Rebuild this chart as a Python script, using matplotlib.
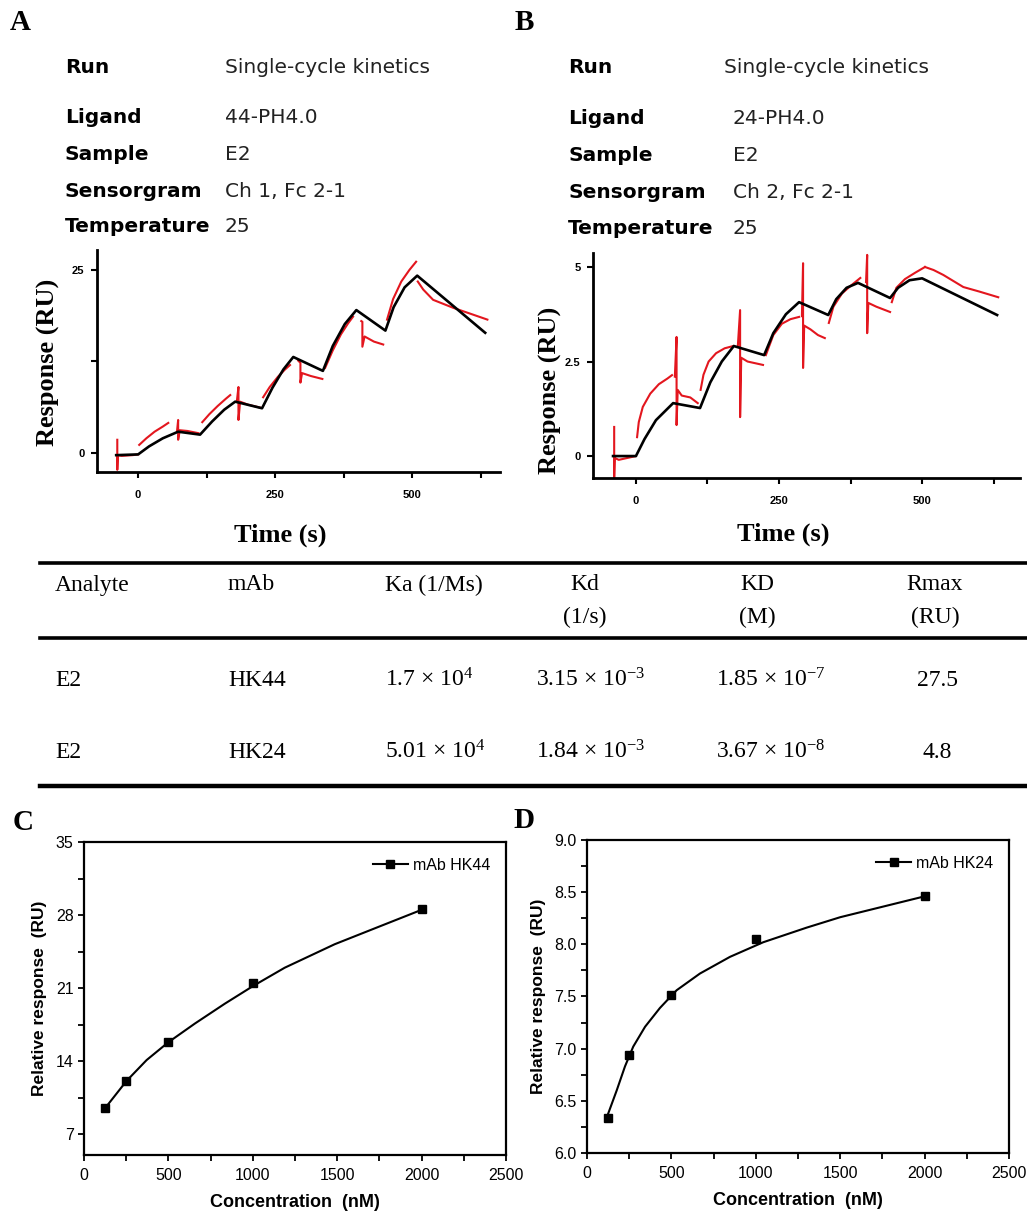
import numpy as np
import matplotlib
matplotlib.use("Agg")
import matplotlib.pyplot as plt
from matplotlib.lines import Line2D

# ------------------------------------------------------------
# Data
# ------------------------------------------------------------

# Panel A sensorgram (HK44): fitted curve (black)
a_fit_t = [-40, 0, 20, 45, 73, 113, 135, 157, 177, 226, 245, 265, 283,
           337, 355, 377, 398, 451, 466, 486, 509, 633]
a_fit_y = [-0.3, -0.2, 0.9, 2.0, 2.9, 2.5, 4.3, 5.9, 7.0, 6.1, 8.9, 11.4, 13.1,
           11.2, 14.6, 17.6, 19.5, 16.7, 19.9, 22.6, 24.2, 16.4]

# Panel A measured response (red), one list per recorded segment
a_raw_t = [
    [-38, -38, -37, -30, -10, 0],
    [2, 15, 30, 45, 55],
    [71, 73, 73, 76, 90, 110],
    [117, 130, 145, 160, 168],
    [180, 183, 183, 186, 200, 222],
    [228, 240, 255, 268, 277],
    [292, 296, 296, 299, 315, 336],
    [341, 355, 370, 383, 392],
    [407, 409, 409, 413, 430, 447],
    [454, 465, 480, 495, 507],
    [510, 520, 538, 575, 610, 637],
]
a_raw_y = [
    [1.8, -2.3, -0.3, -0.4, -0.3, -0.2],
    [1.1, 2.0, 2.9, 3.6, 4.1],
    [3.0, 4.5, 1.8, 3.1, 3.0, 2.7],
    [4.2, 5.3, 6.4, 7.4, 7.9],
    [7.0, 9.0, 4.5, 7.0, 6.6, 6.2],
    [7.6, 9.0, 10.4, 11.4, 12.0],
    [12.6, 12.3, 9.6, 10.9, 10.5, 10.1],
    [11.6, 14.0, 16.2, 17.7, 18.6],
    [18.0, 17.9, 14.5, 15.9, 15.2, 14.8],
    [18.2, 21.0, 23.4, 25.0, 26.1],
    [23.4, 22.3, 20.9, 19.8, 18.9, 18.2],
]

# Panel B sensorgram (HK24)
b_fit_t = [-40, 0, 15, 35, 65, 112, 130, 150, 171, 224, 240, 262, 285,
           336, 350, 368, 388, 444, 458, 478, 500, 631]
b_fit_y = [0.0, 0.0, 0.45, 0.95, 1.40, 1.27, 1.95, 2.5, 2.91, 2.67, 3.25, 3.75, 4.07,
           3.73, 4.15, 4.45, 4.58, 4.18, 4.45, 4.65, 4.70, 3.73]

b_raw_t = [
    [-38, -38, -37, -30, -15, 0],
    [2, 5, 12, 25, 40, 55, 63],
    [68, 71, 71, 73, 80, 95, 108],
    [113, 118, 127, 140, 155, 170],
    [178, 182, 182, 184, 195, 210, 222],
    [227, 240, 255, 270, 285],
    [290, 292, 292, 294, 305, 318, 330],
    [337, 345, 360, 375, 392],
    [402, 404, 404, 406, 420, 444],
    [447, 455, 470, 488, 505],
    [505, 520, 537, 572, 600, 633],
]
b_raw_y = [
    [0.77, -0.58, -0.05, -0.1, -0.05, 0.0],
    [0.5, 0.9, 1.3, 1.65, 1.9, 2.05, 2.14],
    [2.1, 3.15, 0.82, 1.75, 1.6, 1.55, 1.4],
    [1.75, 2.15, 2.5, 2.72, 2.85, 2.91],
    [2.9, 3.86, 1.03, 2.6, 2.5, 2.45, 2.41],
    [2.67, 3.2, 3.5, 3.62, 3.68],
    [3.7, 5.1, 2.33, 3.45, 3.35, 3.2, 3.12],
    [3.52, 3.95, 4.3, 4.5, 4.71],
    [4.6, 5.32, 3.25, 4.05, 3.95, 3.81],
    [4.07, 4.45, 4.68, 4.85, 5.0],
    [5.0, 4.92, 4.79, 4.47, 4.35, 4.2],
]

# Run info headers
info_keys = ["Run", "Ligand", "Sample", "Sensorgram", "Temperature"]
info_a = ["Single-cycle kinetics", "44-PH4.0", "E2", "Ch 1, Fc 2-1", "25"]
info_b = ["Single-cycle kinetics", "24-PH4.0", "E2", "Ch 2, Fc 2-1", "25"]

# Kinetics table
table_head1 = ["Analyte", "mAb", "Ka (1/Ms)", "Kd", "KD", "Rmax"]
table_head2 = ["", "", "", "(1/s)", "(M)", "(RU)"]
table_rows = [
    ["E2", "HK44", r"1.7 × 10$^{4}$", r"3.15 × 10$^{−3}$", r"1.85 × 10$^{−7}$", "27.5"],
    ["E2", "HK24", r"5.01 × 10$^{4}$", r"1.84 × 10$^{−3}$", r"3.67 × 10$^{−8}$", "4.8"],
]

# Panels C / D: dose response
conc = [125, 250, 500, 1000, 2000]
resp_hk44 = [9.5, 12.1, 15.8, 21.5, 28.6]
resp_hk24 = [6.34, 6.94, 7.51, 8.05, 8.46]

# fitted curves, sampled by eye along the drawn line
fit44_x = [124, 252, 371, 499, 657, 834, 1002, 1189, 1485, 1750, 2000]
fit44_y = [9.47, 12.1, 14.1, 15.8, 17.6, 19.5, 21.2, 22.95, 25.2, 26.9, 28.5]
fit24_x = [126, 176, 225, 274, 344, 432, 531, 669, 847, 1044, 1301, 1500, 1750, 2000]
fit24_y = [6.38, 6.60, 6.83, 7.02, 7.21, 7.39, 7.56, 7.72, 7.88, 8.02, 8.16, 8.26, 8.36, 8.46]

# ------------------------------------------------------------
# Figure
# ------------------------------------------------------------
W, H = 1027, 1212
plt.rcParams.update({
    "font.family": "Liberation Sans",
    "mathtext.fontset": "custom",
    "mathtext.rm": "Liberation Serif",
    "mathtext.it": "Liberation Serif:italic",
    "mathtext.bf": "Liberation Serif:bold",
})

fig = plt.figure(figsize=(W / 100, H / 100), dpi=100)
fig.patch.set_facecolor("white")

RED = "#e3161e"


def fx(x):
    return x / W


def fy(y):
    return 1 - y / H


def box(l, t, r, b):
    return [fx(l), fy(b), fx(r) - fx(l), fy(t) - fy(b)]


SERIF = "Liberation Serif"

# panel letters
for letter, (x, y) in zip("ABCD", [(20, 22), (524, 22), (23, 822), (524, 821)]):
    fig.text(fx(x), fy(y), letter, family=SERIF, fontweight="bold",
             fontsize=21, ha="center", va="center")

# run info blocks
base_a = [73, 123, 160, 197, 232]
base_b = [73, 124, 161, 198, 234]
for i, key in enumerate(info_keys):
    fig.text(fx(65), fy(base_a[i]), key, family="DejaVu Sans",
             fontweight="bold", fontsize=14.5, va="baseline")
    fig.text(fx(225), fy(base_a[i]), info_a[i], family="DejaVu Sans",
             fontsize=14.5, va="baseline", color="#222222")
    fig.text(fx(568), fy(base_b[i]), key, family="DejaVu Sans",
             fontweight="bold", fontsize=14.5, va="baseline")
    fig.text(fx(724 if i == 0 else 733), fy(base_b[i]), info_b[i],
             family="DejaVu Sans", fontsize=14.5, va="baseline", color="#222222")


def sensorgram(ax, fit_t, fit_y, raw_t, raw_y, xlim, ylim, yticks, ylabels):
    for t, y in zip(raw_t, raw_y):
        ax.plot(t, y, color=RED, lw=1.5, solid_joinstyle="round")
    ax.plot(fit_t, fit_y, color="black", lw=1.9)
    ax.set_xlim(*xlim)
    ax.set_ylim(*ylim)
    ax.spines["top"].set_visible(False)
    ax.spines["right"].set_visible(False)
    ax.spines["left"].set_linewidth(2.0)
    ax.spines["bottom"].set_linewidth(2.0)
    ax.set_xticks([0, 125, 250, 375, 500, 625])
    ax.set_xticklabels(["0", "", "250", "", "500", ""])
    ax.set_yticks(yticks)
    ax.set_yticklabels(ylabels)
    ax.tick_params(axis="both", direction="out", length=4, width=1.5,
                   labelsize=8)
    ax.tick_params(axis="x", pad=9)
    ax.tick_params(axis="y", pad=5)
    for lab in ax.get_xticklabels() + ax.get_yticklabels():
        lab.set_fontweight("bold")


axA = fig.add_axes(box(97, 250, 500, 472))
sensorgram(axA, a_fit_t, a_fit_y, a_raw_t, a_raw_y, (-75, 660), (-2.6, 27.7),
           [0, 12.5, 25], ["0", "", "25"])
axB = fig.add_axes(box(593, 253, 1020, 478))
sensorgram(axB, b_fit_t, b_fit_y, b_raw_t, b_raw_y, (-75, 671), (-0.58, 5.37),
           [0, 2.5, 5], ["0", "2.5", "5"])

for (x, y) in [(48, 362), (550, 390)]:
    fig.text(fx(x), fy(y), "Response (RU)", family=SERIF, fontweight="bold",
             fontsize=19, rotation=90, ha="center", va="center")
for (x, y) in [(280, 535), (783, 534)]:
    fig.text(fx(x), fy(y), "Time (s)", family=SERIF, fontweight="bold",
             fontsize=19, ha="center", va="center")

# table
for y, lw in [(563, 2.6), (638, 2.6), (786, 3.2)]:
    fig.add_artist(Line2D([fx(40), fx(1027)], [fy(y), fy(y)], color="black",
                          lw=lw, transform=fig.transFigure))

col_x = [55, 228, 385, 585, 757, 935]
col_ha = ["left", "left", "left", "center", "center", "center"]
for j, txt in enumerate(table_head1):
    fig.text(fx(col_x[j]), fy(585), txt, family=SERIF, fontsize=17,
             ha=col_ha[j], va="center")
    if table_head2[j]:
        fig.text(fx(col_x[j]), fy(617), table_head2[j], family=SERIF,
                 fontsize=17, ha=col_ha[j], va="center")

val_x = [55, 228, 385, 536, 716, 937]
val_ha = ["left", "left", "left", "left", "left", "center"]
for row, y in zip(table_rows, [680, 752]):
    for j, txt in enumerate(row):
        fig.text(fx(val_x[j]), fy(y), txt, family=SERIF, fontsize=17,
                 ha=val_ha[j], va="center")


def dose_panel(ax, x, y, cx, cy, ylim, yticks, yfmt, label):
    ax.plot(cx, cy, color="black", lw=1.5)
    ax.plot(x, y, ls="none", marker="s", ms=5.5, color="black")
    ax.set_xlim(0, 2500)
    ax.set_ylim(*ylim)
    ax.set_xticks([0, 500, 1000, 1500, 2000, 2500])
    ax.set_xticks([250, 750, 1250, 1750, 2250], minor=True)
    ax.set_yticks(yticks)
    ax.set_yticklabels([yfmt.format(v) for v in yticks])
    step = yticks[1] - yticks[0]
    ax.set_yticks([v + step / 2 for v in yticks[:-1]], minor=True)
    for s in ax.spines.values():
        s.set_linewidth(1.6)
    ax.tick_params(which="both", direction="out", length=4, width=1.3,
                   labelsize=11.5, top=False, right=False)
    ax.tick_params(axis="x", pad=5)
    handle = Line2D([], [], color="black", lw=1.5, marker="s", ms=5.5)
    ax.legend([handle], [label], loc="upper right", frameon=False,
              fontsize=11.5, handlelength=2.2, handletextpad=0.3,
              borderaxespad=0.6)
    ax.set_xlabel("Concentration  (nM)", fontsize=13, fontweight="bold",
                  labelpad=8)
    ax.set_ylabel("Relative response  (RU)", fontsize=12.5, fontweight="bold",
                  labelpad=6)


axC = fig.add_axes(box(84, 842, 506, 1155))
dose_panel(axC, conc, resp_hk44, fit44_x, fit44_y, (5, 35),
           [7, 14, 21, 28, 35], "{:.0f}", "mAb HK44")
axD = fig.add_axes(box(587, 840, 1009, 1153))
dose_panel(axD, conc, resp_hk24, fit24_x, fit24_y, (6, 9),
           [6.0, 6.5, 7.0, 7.5, 8.0, 8.5, 9.0], "{:.1f}", "mAb HK24")
axC.set_yticks([10.5, 17.5, 24.5, 31.5], minor=True)

fig.savefig("out.png", dpi=100, facecolor="white")
